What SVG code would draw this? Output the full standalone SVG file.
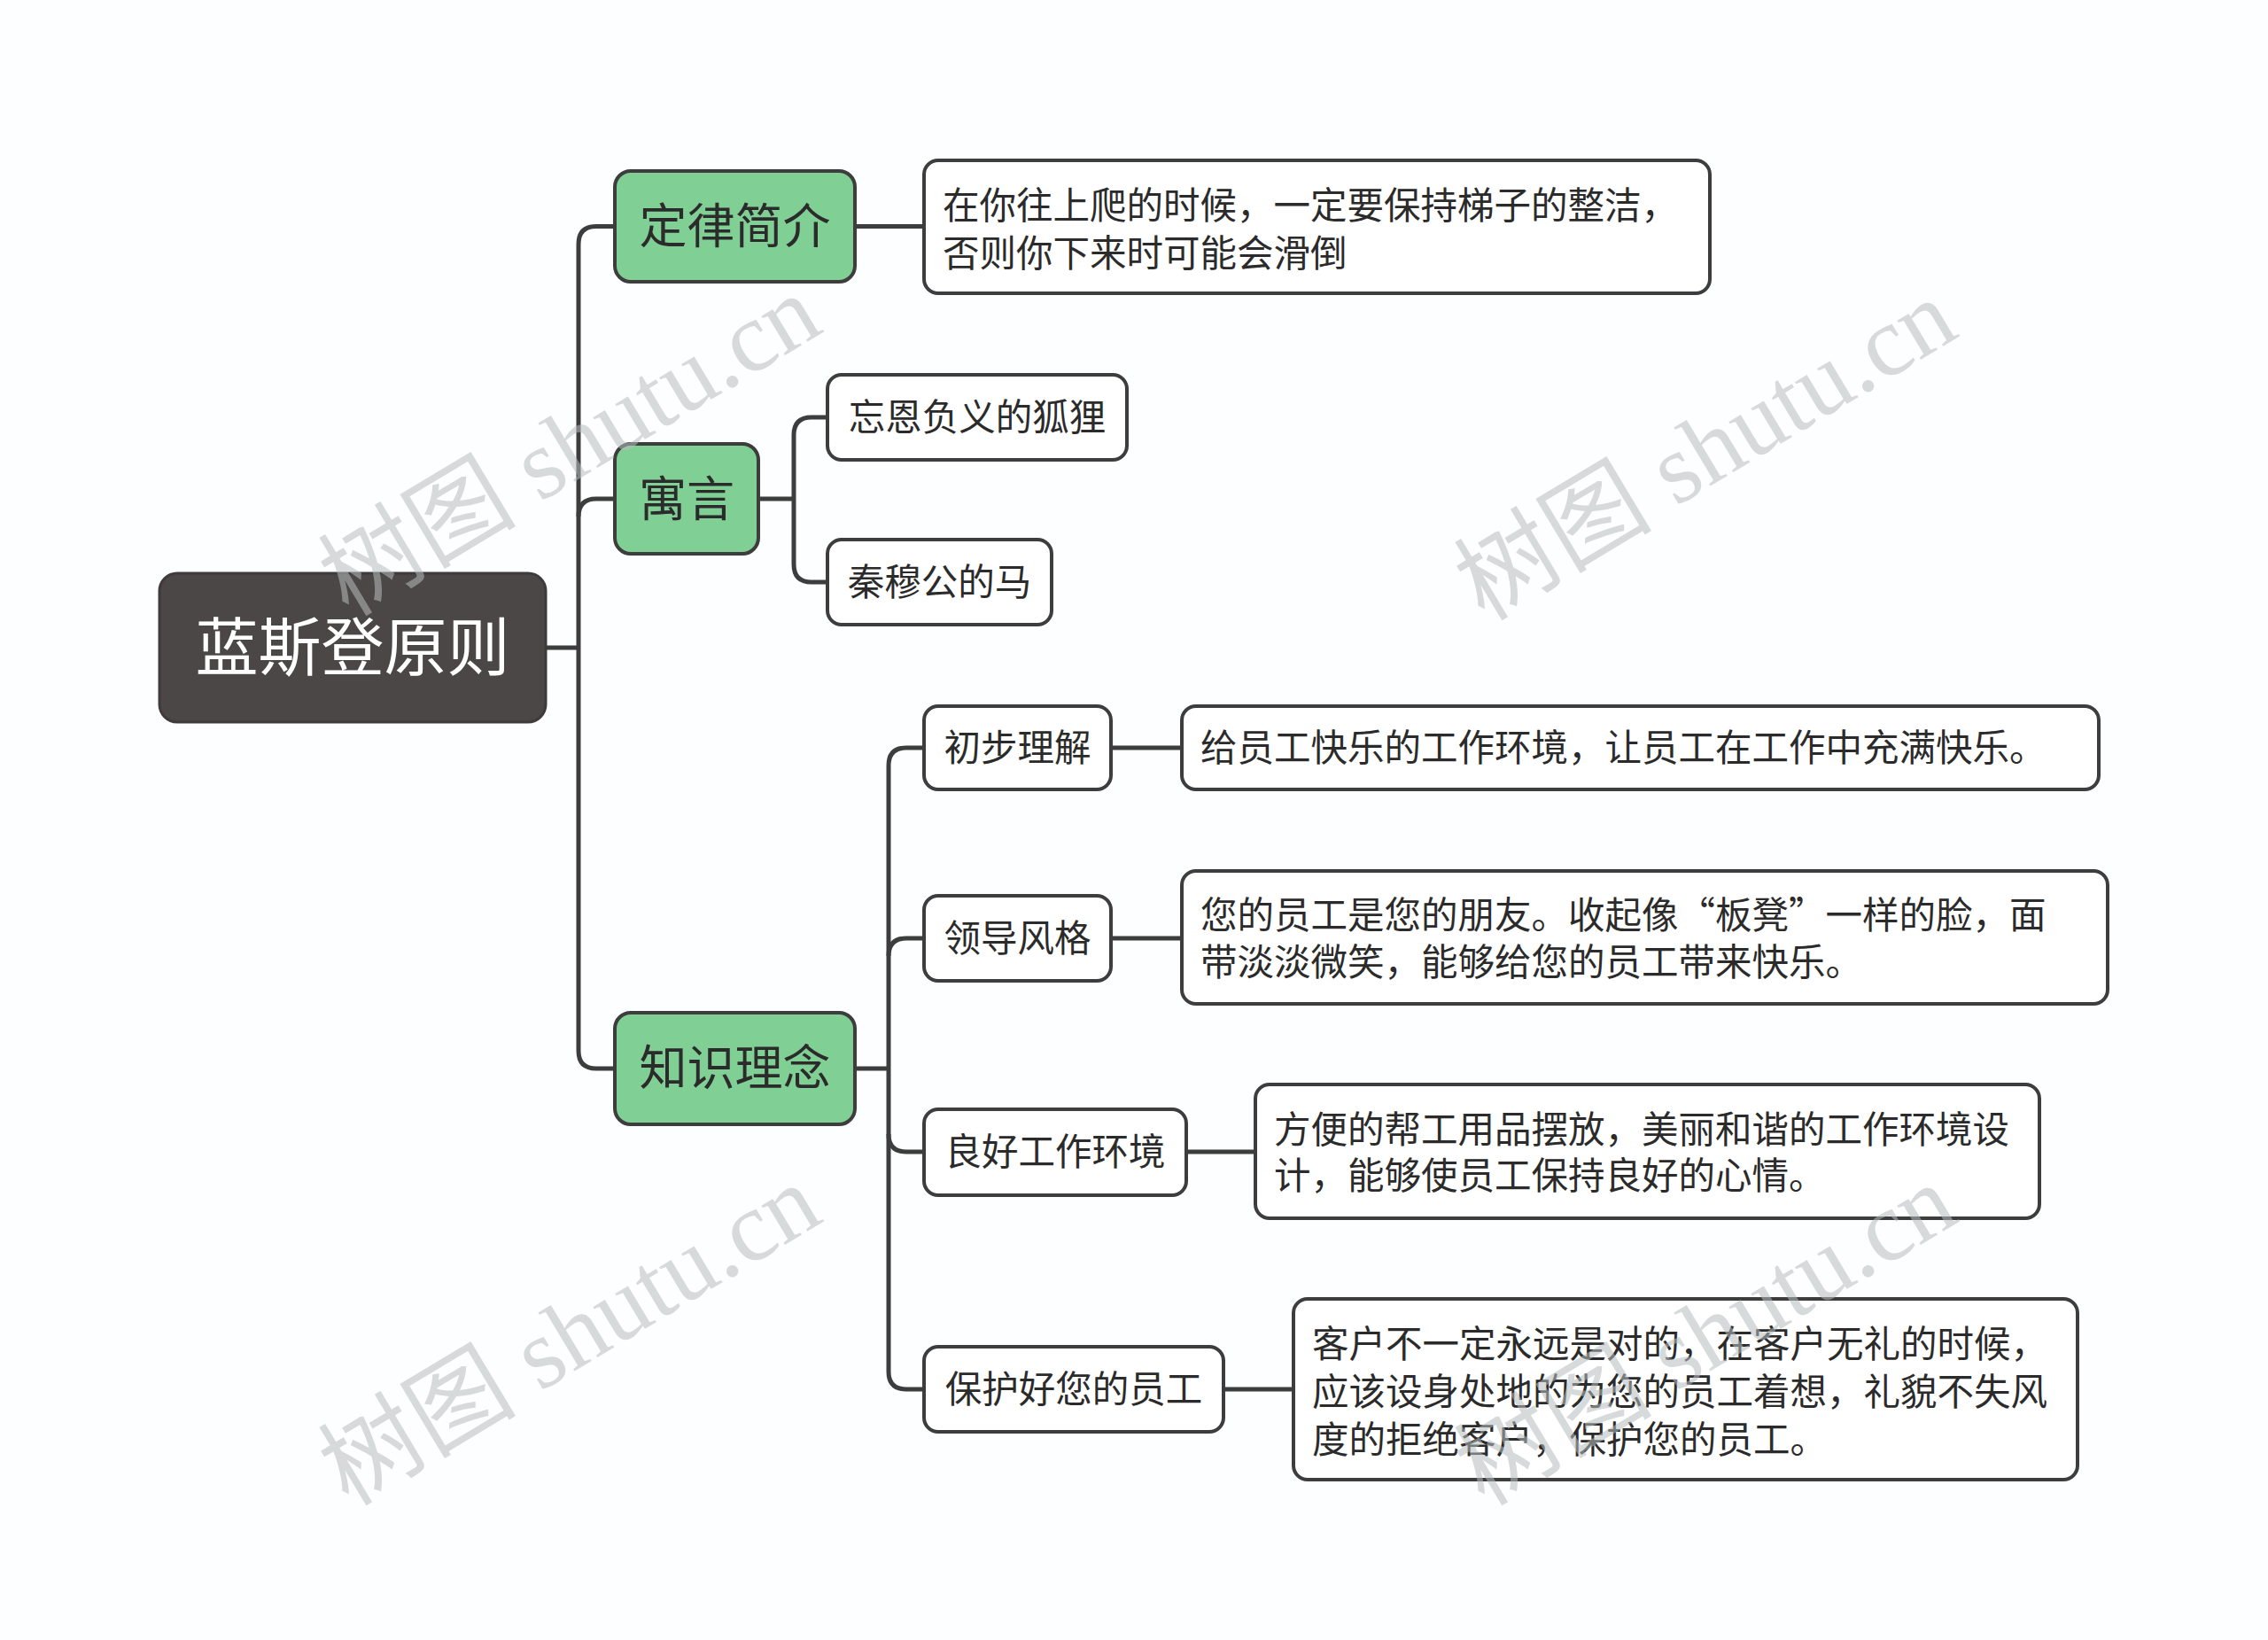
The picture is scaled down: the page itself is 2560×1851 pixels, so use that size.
<svg xmlns="http://www.w3.org/2000/svg" width="2560" height="1851" viewBox="0 0 2560 1851">
<style>
.bg{fill:#fdfeff}
.root{fill:#4b4747;stroke:#3f3b3b;stroke-width:3}
.l1{fill:#80cf94;stroke:#3d3d3d;stroke-width:4}
.leaf{fill:#ffffff;stroke:#3d3d3d;stroke-width:4}
.t{font-family:"Noto Sans CJK SC","Noto Sans",sans-serif;fill:#2b2b2b}
.rt{font-size:71px;fill:#ffffff}
.t1{font-size:54px}
.t2{font-size:41.5px}
.conn{fill:none;stroke:#3d3d3d;stroke-width:5;stroke-linejoin:round}
.wm{font-family:"Liberation Serif","Noto Sans CJK SC",serif;font-size:112px;fill:#b8bdbd;opacity:0.55}
</style>
<rect class="bg" x="0" y="0" width="2560" height="1851"/>
<g id="connectors">
<path class="conn" d="M616,731 H653"/>
<path class="conn" d="M694,255.5 H673 Q653,255.5 653,275.5 V1186 Q653,1206 673,1206 H694"/>
<path class="conn" d="M694,563 H673 Q653,563 653,583"/>
<path class="conn" d="M856,563 H896"/>
<path class="conn" d="M934,471 H916 Q896,471 896,491 V637 Q896,657 916,657 H934"/>
<path class="conn" d="M965,255.5 H1043"/>
<path class="conn" d="M965,1206 H1003"/>
<path class="conn" d="M1043,844 H1023 Q1003,844 1003,864 V1548 Q1003,1568 1023,1568 H1043"/>
<path class="conn" d="M1043,1059 H1023 Q1003,1059 1003,1079"/>
<path class="conn" d="M1043,1300 H1023 Q1003,1300 1003,1280"/>
<path class="conn" d="M1254,844 H1334"/>
<path class="conn" d="M1254,1059 H1334"/>
<path class="conn" d="M1339,1300 H1417"/>
<path class="conn" d="M1381,1568 H1460"/>
</g>
<g id="root">
<rect class="root" x="180" y="647" width="436" height="168" rx="20"/>
<text class="t rt" x="398" y="756" text-anchor="middle">蓝斯登原则</text>
</g>
<g id="n-dinglv">
<rect class="l1" x="694" y="193" width="271" height="125" rx="18"/>
<text class="t t1" x="829.5" y="275" text-anchor="middle">定律简介</text>
</g>
<g id="n-yuyan">
<rect class="l1" x="694" y="501" width="162" height="124" rx="18"/>
<text class="t t1" x="775" y="583" text-anchor="middle">寓言</text>
</g>
<g id="n-zhishi">
<rect class="l1" x="694" y="1143" width="271" height="126" rx="18"/>
<text class="t t1" x="829.5" y="1225" text-anchor="middle">知识理念</text>
</g>
<g id="n-d1">
<rect class="leaf" x="1043" y="181" width="887" height="150" rx="16"/>
<text class="t t2" x="1064" y="247">在你往上爬的时候，一定要保持梯子的整洁，</text>
<text class="t t2" x="1064" y="301">否则你下来时可能会滑倒</text>
</g>
<g id="n-huli">
<rect class="leaf" x="934" y="423" width="338" height="96" rx="16"/>
<text class="t t2" x="1103" y="486" text-anchor="middle">忘恩负义的狐狸</text>
</g>
<g id="n-ma">
<rect class="leaf" x="934" y="609" width="253" height="96" rx="16"/>
<text class="t t2" x="1060.5" y="672" text-anchor="middle">秦穆公的马</text>
</g>
<g id="n-chubu">
<rect class="leaf" x="1043" y="797" width="211" height="94" rx="16"/>
<text class="t t2" x="1148.5" y="859" text-anchor="middle">初步理解</text>
</g>
<g id="n-chubu-d">
<rect class="leaf" x="1334" y="797" width="1035" height="94" rx="16"/>
<text class="t t2" x="1355" y="859">给员工快乐的工作环境，让员工在工作中充满快乐。</text>
</g>
<g id="n-lingdao">
<rect class="leaf" x="1043" y="1011" width="211" height="96" rx="16"/>
<text class="t t2" x="1148.5" y="1074" text-anchor="middle">领导风格</text>
</g>
<g id="n-lingdao-d">
<rect class="leaf" x="1334" y="983" width="1045" height="150" rx="16"/>
<text class="t t2" x="1355" y="1048">您的员工是您的朋友。收起像“板凳”一样的脸，面</text>
<text class="t t2" x="1355" y="1101">带淡淡微笑，能够给您的员工带来快乐。</text>
</g>
<g id="n-lianghao">
<rect class="leaf" x="1043" y="1252" width="296" height="97" rx="16"/>
<text class="t t2" x="1191" y="1315" text-anchor="middle">良好工作环境</text>
</g>
<g id="n-lianghao-d">
<rect class="leaf" x="1417" y="1224" width="885" height="151" rx="16"/>
<text class="t t2" x="1438" y="1290">方便的帮工用品摆放，美丽和谐的工作环境设</text>
<text class="t t2" x="1438" y="1342">计，能够使员工保持良好的心情。</text>
</g>
<g id="n-baohu">
<rect class="leaf" x="1043" y="1520" width="338" height="96" rx="16"/>
<text class="t t2" x="1212" y="1583" text-anchor="middle">保护好您的员工</text>
</g>
<g id="n-baohu-d">
<rect class="leaf" x="1460" y="1466" width="885" height="204" rx="16"/>
<text class="t t2" x="1481" y="1532">客户不一定永远是对的，在客户无礼的时候，</text>
<text class="t t2" x="1481" y="1586">应该设身处地的为您的员工着想，礼貌不失风</text>
<text class="t t2" x="1481" y="1640">度的拒绝客户，保护您的员工。</text>
</g>
<g id="watermarks">
<text class="wm" x="645" y="540" text-anchor="middle" transform="rotate(-31 645 506)">树图 shutu.cn</text>
<text class="wm" x="1927" y="545" text-anchor="middle" transform="rotate(-31 1927 511)">树图 shutu.cn</text>
<text class="wm" x="645" y="1544" text-anchor="middle" transform="rotate(-31 645 1510)">树图 shutu.cn</text>
<text class="wm" x="1927" y="1544" text-anchor="middle" transform="rotate(-31 1927 1510)">树图 shutu.cn</text>
</g>
</svg>
